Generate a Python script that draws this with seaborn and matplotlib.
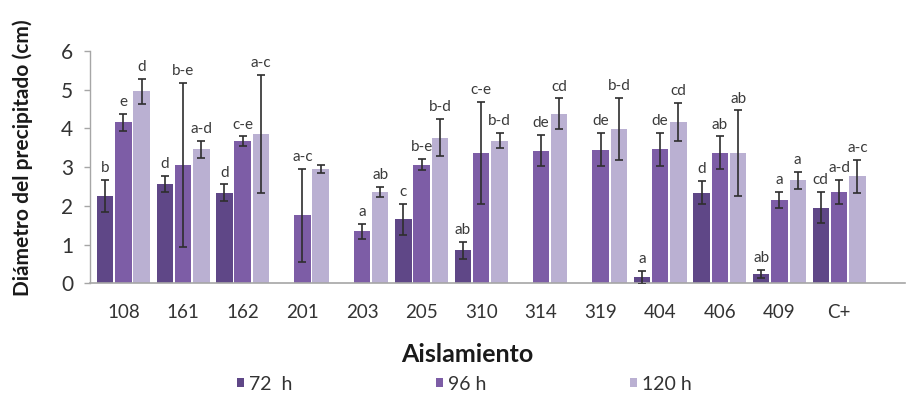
import numpy as np
import pandas as pd
import matplotlib
matplotlib.use("Agg")
import matplotlib.pyplot as plt
from matplotlib.container import BarContainer
import seaborn as sns

# Isolates and incubation times
categories = ["108", "161", "162", "201", "203", "205", "310", "314", "319", "404", "406", "409", "C+"]
times = ["72  h", "96 h", "120 h"]

nan = np.nan
mean_72 = [2.25, 2.56, 2.34, nan, nan, 1.65, 0.85, nan, nan, 0.15, 2.34, 0.24, 1.95]
err_72 = [0.42, 0.21, 0.21, nan, nan, 0.40, 0.22, nan, nan, 0.17, 0.30, 0.11, 0.40]
mean_96 = [4.15, 3.05, 3.67, 1.75, 1.34, 3.06, 3.36, 3.42, 3.45, 3.46, 3.37, 2.15, 2.35]
err_96 = [0.22, 2.12, 0.12, 1.20, 0.20, 0.14, 1.32, 0.40, 0.42, 0.43, 0.42, 0.20, 0.31]
mean_120 = [4.95, 3.46, 3.86, 2.95, 2.36, 3.76, 3.68, 4.37, 3.98, 4.16, 3.36, 2.66, 2.76]
err_120 = [0.32, 0.22, 1.52, 0.10, 0.13, 0.48, 0.20, 0.40, 0.80, 0.50, 1.10, 0.22, 0.43]

letters_72 = ["b", "d", "d", "", "", "c", "ab", "", "", "a", "d", "ab", "cd"]
letters_96 = ["e", "b-e", "c-e", "a-c", "a", "b-e", "c-e", "de", "de", "de", "ab", "a", "a-d"]
letters_120 = ["d", "a-d", "a-c", "", "ab", "b-d", "b-d", "cd", "b-d", "cd", "ab", "a", "a-c"]

colors = ["#5f4787", "#7d5da6", "#bab0d2"]

means = [mean_72, mean_96, mean_120]
errs = [err_72, err_96, err_120]
letters = [letters_72, letters_96, letters_120]

df = pd.DataFrame({
    "Aislamiento": np.tile(categories, len(times)),
    "Tiempo": np.repeat(times, len(categories)),
    "Diametro": np.concatenate(means),
})

sns.set_style("white")
plt.rcParams["font.family"] = ["Lato", "DejaVu Sans"]

fig = plt.figure(figsize=(9.12, 4.03), dpi=100)
ax = fig.add_axes([0.0987, 0.297, 0.8933, 0.577])

sns.barplot(data=df, x="Aislamiento", y="Diametro", hue="Tiempo",
            order=categories, hue_order=times, palette=colors,
            errorbar=None, width=0.92, gap=0.1, saturation=1,
            linewidth=0, ax=ax, legend=True)

# Error bars and significance letters on each bar
bar_containers = [c for c in ax.containers if isinstance(c, BarContainer)]
for h, container in enumerate(bar_containers):
    for patch in container.patches:
        height = patch.get_height()
        if not np.isfinite(height):
            continue
        xc = patch.get_x() + patch.get_width() / 2
        i = int(round(xc))
        e = errs[h][i]
        if not np.isfinite(e):
            continue
        ax.errorbar(xc, height, yerr=e, fmt="none", ecolor="#2e2e2e",
                    elinewidth=1.2, capsize=2.8, capthick=1.2, zorder=5)
        lab = letters[h][i]
        if lab:
            ax.annotate(lab, (xc, height + e), xytext=(0, 3.5),
                        textcoords="offset points", ha="center", va="bottom",
                        fontsize=11, color="#3a3a3a", zorder=6)

ax.set_ylim(0, 6)
ax.set_xlim(-0.56, 13.1)
ax.set_yticks(range(0, 7))

for side in ["top", "right"]:
    ax.spines[side].set_visible(False)
ax.spines["left"].set_color("#a6a6a6")
ax.spines["bottom"].set_color("#a6a6a6")
ax.spines["left"].set_linewidth(1.0)
ax.spines["bottom"].set_linewidth(1.2)

ax.tick_params(axis="y", which="major", direction="out", length=4, width=1,
               color="#a6a6a6", labelsize=15, labelcolor="#333333", pad=8, left=True)
ax.tick_params(axis="x", which="major", length=0, labelsize=13.5,
               labelcolor="#333333", pad=15)

ax.set_xlabel("")
ax.set_ylabel("Diámetro del precipitado (cm)", fontsize=15,
              fontweight="bold", color="#1a1a1a")
ax.yaxis.set_label_coords(-0.07, 0.54)

fig.text(467 / 912, 1 - 355 / 403, "Aislamiento", ha="center", va="center",
         fontsize=18, fontweight="bold", color="#1a1a1a")

handles, labels = ax.get_legend_handles_labels()
ax.get_legend().remove()
fig.legend(handles, labels, loc="center left",
           bbox_to_anchor=(237 / 912, 1 - 384 / 403), ncol=3, frameon=False,
           fontsize=14, labelcolor="#333333", handlelength=0.36,
           handleheight=0.36, handletextpad=0.25, columnspacing=7.4,
           borderaxespad=0, borderpad=0)

fig.savefig("out.png", dpi=100)
